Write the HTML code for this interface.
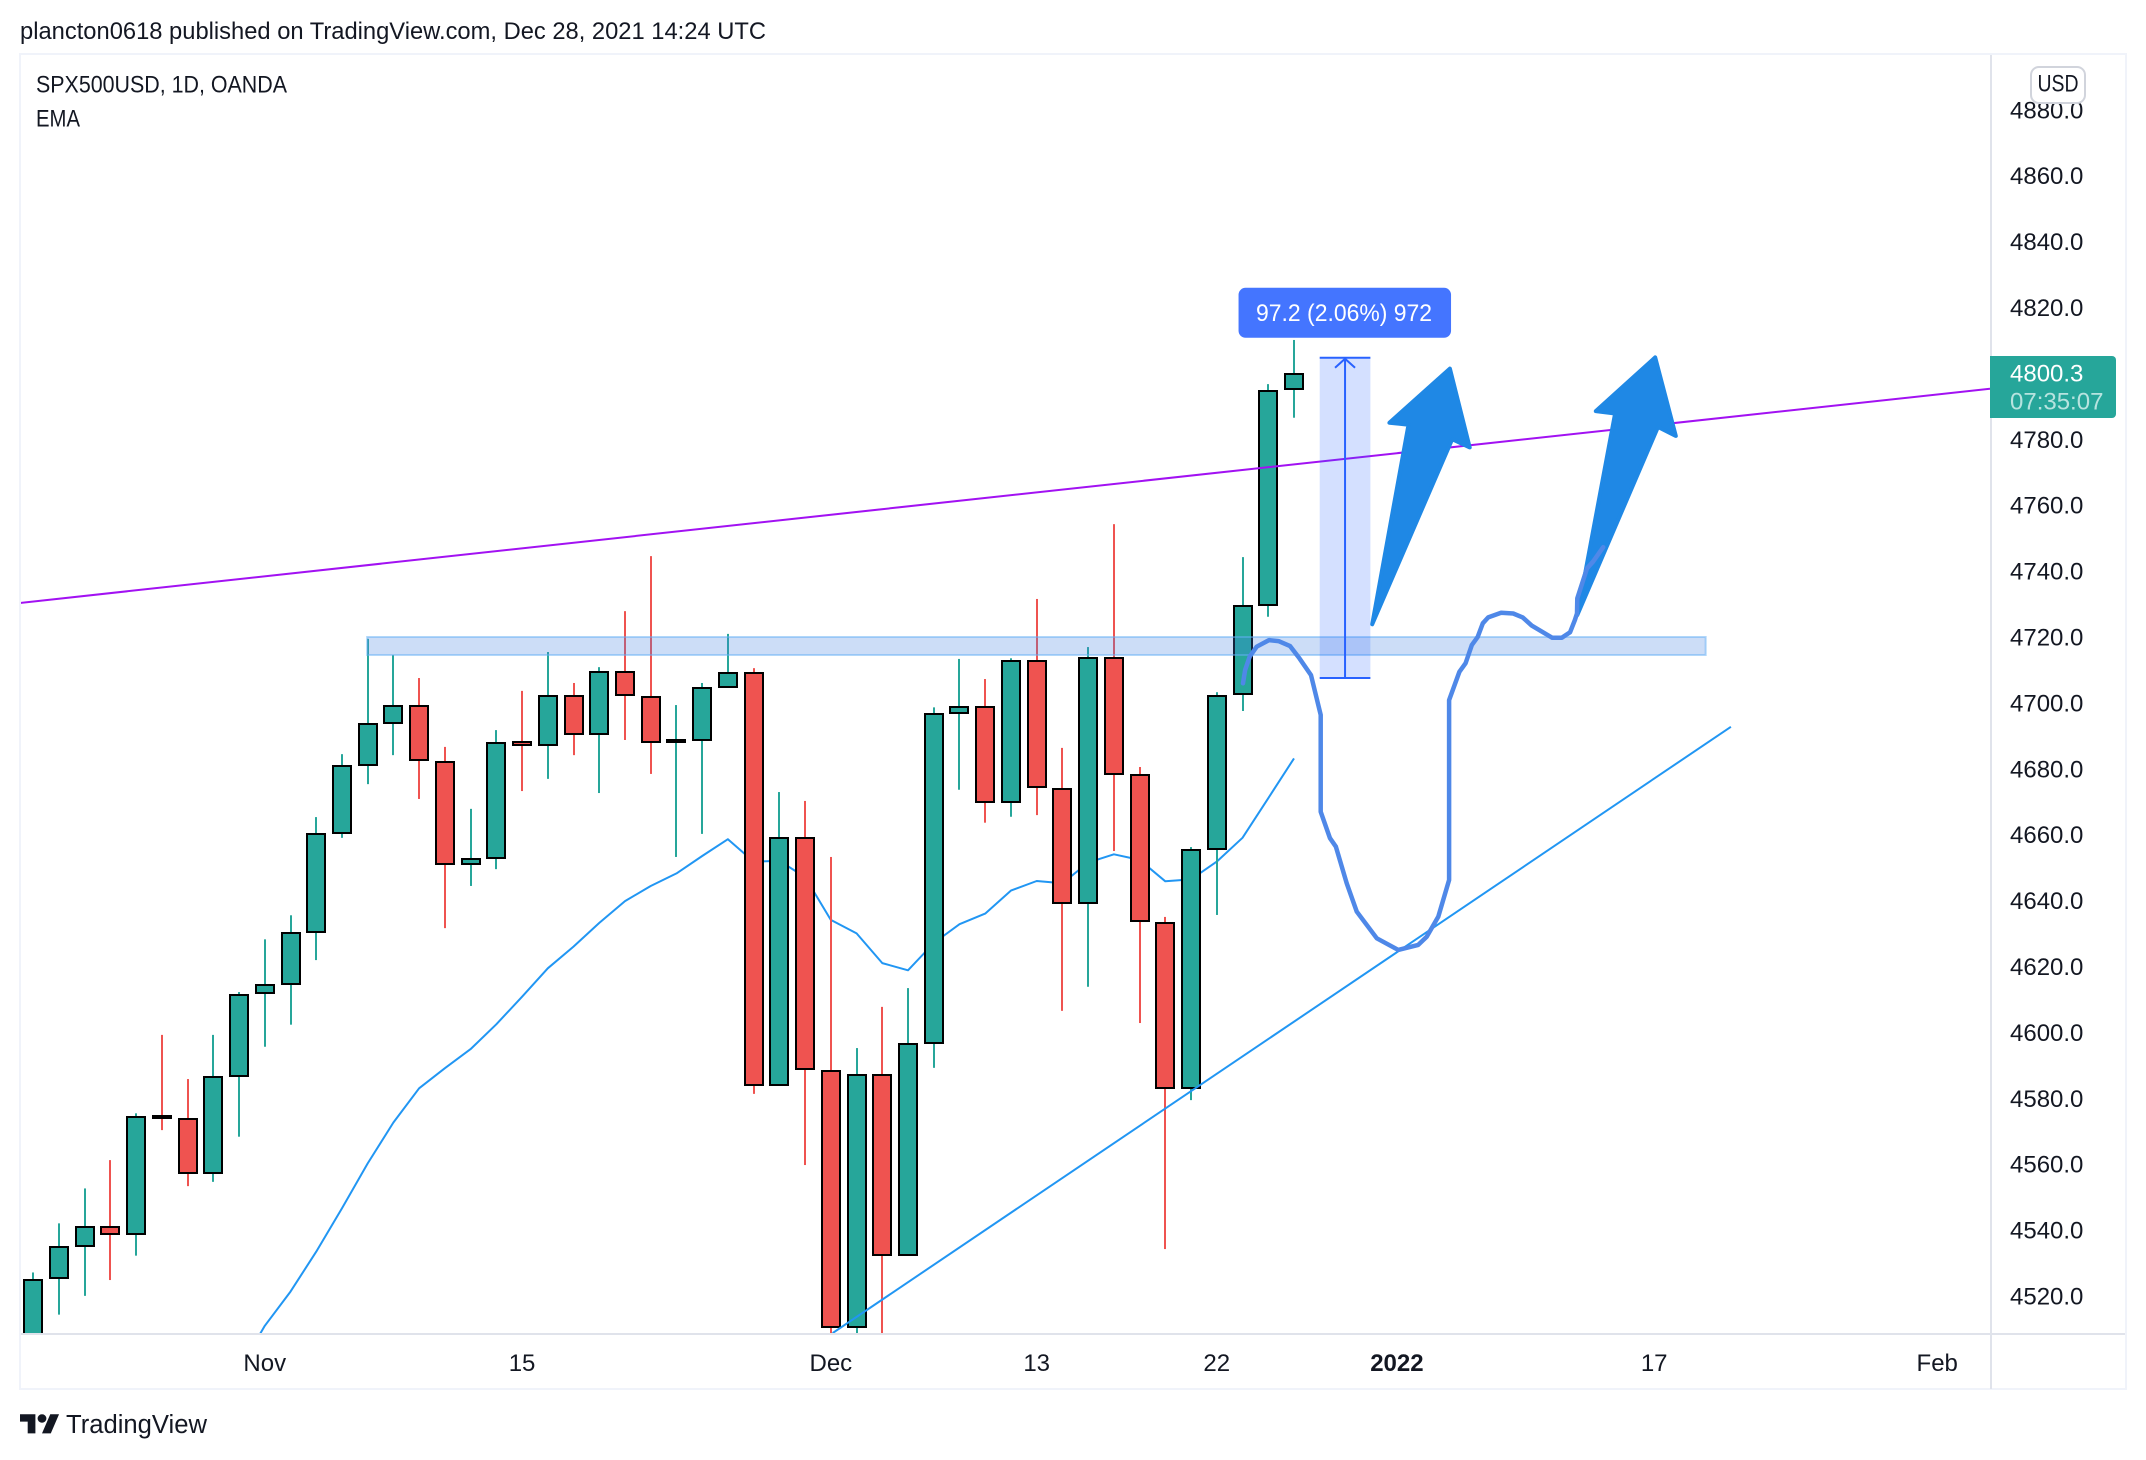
<!DOCTYPE html>
<html lang="en">
<head>
<meta charset="utf-8">
<title>SPX500USD, 1D, OANDA</title>
<style>
html,body{margin:0;padding:0;background:#fff;}
svg{display:block;position:absolute;left:0;top:0;}
text{font-family:"Liberation Sans",sans-serif;fill:#131722;font-size:24px;}
</style>
</head>
<body>
<svg id="chart" xmlns="http://www.w3.org/2000/svg" width="2146" height="1460" viewBox="0 0 2146 1460">
  <defs>
    <clipPath id="pane-clip"><rect x="21" y="55" width="1969" height="1278.5"/></clipPath>
  </defs>
  <rect x="0" y="0" width="2146" height="1460" fill="#ffffff"/>
  <text x="20" y="39" textLength="746" lengthAdjust="spacingAndGlyphs">plancton0618 published on TradingView.com, Dec 28, 2021 14:24 UTC</text>

  <g id="pane" clip-path="url(#pane-clip)">
    <g id="ema-layer"></g>
    <g id="candle-layer"></g>
    <g id="drawing-layer"></g>
  </g>

  <text x="36" y="92.5" textLength="251" lengthAdjust="spacingAndGlyphs">SPX500USD, 1D, OANDA</text>
  <text x="36" y="126.5" textLength="44" lengthAdjust="spacingAndGlyphs">EMA</text>

  <rect x="20" y="54" width="2106" height="1335" fill="none" stroke="#f0f3fa" stroke-width="2"/>
  <rect x="1990" y="55" width="2" height="1334" fill="#e0e3eb"/>
  <rect x="21" y="1333" width="2104" height="2" fill="#e0e3eb"/>

  <g id="price-axis"></g>
  <g id="time-axis"></g>

  <g>
    <rect x="2031" y="67" width="54" height="36" rx="8" fill="#ffffff" stroke="#d1d4dc" stroke-width="2"/>
    <text x="2037.5" y="91.5" textLength="41" lengthAdjust="spacingAndGlyphs">USD</text>
  </g>

  <g>
    <path d="M1990 356H2112a4 4 0 0 1 4 4V414a4 4 0 0 1 -4 4H1990Z" fill="#26a69a"/>
    <text x="2010" y="381.5" style="fill:#ffffff">4800.3</text>
    <text x="2010" y="409.5" style="fill:#b7e3df">07:35:07</text>
  </g>

  <g>
    <g transform="translate(20,1410) scale(1.1,1.06)" fill="#131722">
      <path d="M14 22H7V11H0V4h14v18zM28 22h-8l7.5-18h8L28 22z"/>
      <circle cx="20" cy="8" r="4"/>
    </g>
    <text x="66" y="1433" style="font-size:25.5px" textLength="141" lengthAdjust="spacingAndGlyphs">TradingView</text>
  </g>
</svg>

<script>
/* ---------- chart data (prices, bar indices) ---------- */
const opens  = [4500.0,4525.6,4535.4,4541.5,4539.2,4575.0,4574.3,4557.7,4587.0,4612.1,4614.9,4630.7,4660.8,4681.4,4694.1,4699.6,4682.6,4651.2,4653.2,4688.5,4687.6,4702.6,4690.7,4709.9,4702.3,4688.5,4689.1,4705.1,4709.6,4584.2,4659.5,4588.8,4510.7,4587.6,4532.8,4597.1,4697.3,4699.3,4670.3,4713.2,4674.4,4639.4,4714.1,4678.6,4633.7,4583.5,4656.0,4702.9,4730.1,4795.4];
const highs  = [4527.6,4542.5,4553.1,4561.7,4575.9,4599.7,4586.3,4599.7,4612.7,4628.7,4636.0,4665.8,4684.9,4719.9,4715.0,4708.0,4687.1,4668.3,4692.2,4704.1,4715.9,4706.5,4711.3,4728.3,4745.0,4699.8,4706.5,4721.4,4711.0,4673.4,4670.7,4653.7,4595.7,4608.2,4613.9,4699.1,4713.8,4707.7,4714.0,4732.0,4686.8,4717.4,4754.7,4681.0,4635.5,4656.7,4703.7,4744.7,4797.2,4810.6];
const lows   = [4495.0,4514.8,4520.5,4525.3,4532.7,4570.8,4553.8,4555.1,4568.8,4596.1,4602.8,4622.4,4659.5,4675.8,4684.6,4671.3,4632.1,4644.9,4650.0,4673.7,4677.4,4684.6,4673.1,4689.2,4678.9,4653.7,4660.7,4705.1,4581.8,4584.2,4560.2,4500.0,4500.0,4500.0,4532.8,4589.7,4674.1,4664.1,4665.9,4666.4,4607.0,4614.3,4655.5,4603.3,4534.7,4579.9,4636.1,4698.0,4726.6,4787.0];
const closes = [4525.3,4535.4,4541.5,4539.2,4574.9,4574.4,4557.7,4587.0,4611.9,4614.9,4630.7,4660.8,4681.4,4694.1,4699.6,4682.8,4651.3,4653.2,4688.3,4687.5,4702.6,4690.7,4709.9,4702.5,4688.5,4689.1,4705.1,4709.6,4584.2,4659.5,4589.0,4510.7,4587.6,4532.8,4597.0,4697.2,4699.3,4670.3,4713.2,4674.6,4639.4,4714.1,4678.8,4634.0,4583.5,4655.9,4702.6,4730.0,4795.2,4800.3];
const emaValues = [null,null,null,null,null,null,null,null,4498.0,4511.4,4521.8,4533.9,4547.1,4560.7,4573.1,4583.5,4589.6,4595.4,4602.9,4611.3,4619.9,4626.5,4633.7,4640.3,4644.9,4648.7,4654.0,4659.1,4652.3,4652.5,4647.6,4634.6,4630.5,4621.5,4619.3,4627.6,4633.3,4636.5,4643.5,4646.4,4645.7,4652.0,4654.5,4652.8,4646.3,4646.9,4652.3,4659.5,4671.5,4683.6];
const priceTicks = [4880,4860,4840,4820,4780,4760,4740,4720,4700,4680,4660,4640,4620,4600,4580,4560,4540,4520];
const timeTickBars = [9,19,31,39,46,53,63,74];
const timeTickLabels = ["Nov","15","Dec","13","22","2022","17","Feb"];

/* ---------- drawings, anchored as [bar, price] ---------- */
const resistanceLine = [[-0.5,4730.8],[76.05,4795.8]];
const supportLine = [[31.07,4509.2],[65.98,4693.2]];
const zoneBars = [12.98,65];
const zonePrices = [4720.4,4714.9];
const rangeBars = [50.0,51.97];
const rangePrices = [4708.0,4805.2];
const rangeLabel = "97.2 (2.06%) 972";
const arrowOne = [[52.04,4724.3],[53.45,4784.9],[52.71,4785.5],[55.06,4801.9],[55.83,4778.0],[55.15,4780.5]];
const arrowTwo = [[60.01,4727.1],[61.48,4788.3],[60.73,4789.0],[63.04,4805.3],[63.84,4781.5],[63.15,4784.2]];
const brushPath = [[47.02,4706.4],[47.10,4710.4],[47.28,4714.5],[47.55,4717.5],[48.03,4719.5],[48.40,4719.2],[48.85,4717.7],[49.21,4714.0],[49.66,4708.9],[50.04,4696.8],[50.04,4667.4],[50.40,4659.4],[50.63,4656.8],[51.05,4645.7],[51.44,4637.1],[52.22,4629.0],[53.05,4625.5],[53.83,4627.0],[54.16,4629.5],[54.61,4635.6],[55.03,4646.7],[55.03,4701.3],[55.43,4709.9],[55.67,4712.5],[55.91,4718.0],[56.14,4720.5],[56.34,4724.6],[56.55,4726.4],[57.05,4727.8],[57.52,4727.6],[57.89,4726.4],[58.24,4723.9],[59.04,4720.2],[59.41,4720.2],[59.73,4721.9],[59.92,4725.6],[60.00,4727.6],[60.01,4732.2],[60.39,4741.3],[60.62,4743.3],[61.02,4747.7]];

/* ---------- axis functions ---------- */
function xOf(bar){ return 33.2 + bar * 25.73; }
function yOf(price){ return 1297.5 - (price - 4520) * 3.295; }

const NS = "http://www.w3.org/2000/svg";
function make(tag, attrs, parent){
  const node = document.createElementNS(NS, tag);
  for (const k in attrs) node.setAttribute(k, attrs[k]);
  parent.appendChild(node);
  return node;
}
function pts(list){ return list.map(p => xOf(p[0]).toFixed(1) + "," + yOf(p[1]).toFixed(1)).join(" "); }

const emaLayer = document.getElementById("ema-layer");
const candleLayer = document.getElementById("candle-layer");
const drawingLayer = document.getElementById("drawing-layer");
const priceAxis = document.getElementById("price-axis");
const timeAxis = document.getElementById("time-axis");

/* EMA */
const emaPoints = [];
emaValues.forEach((v, i) => { if (v !== null) emaPoints.push([i, v]); });
const emaEl = make("polyline", {points: pts(emaPoints), fill: "none", stroke: "#2196f3", "stroke-width": 2, "stroke-linejoin": "round"}, emaLayer);



/* Candles */
closes.forEach((close, i) => {
  const open = opens[i];
  const up = close >= open;
  const color = up ? "#26a69a" : "#ef5350";
  const cx = Math.round(xOf(i));
  const group = make("g", {}, candleLayer);
  
  
  const wick = make("rect", {x: cx - 1, y: yOf(highs[i]), width: 2, height: yOf(lows[i]) - yOf(highs[i]), fill: color}, group);
  
  
  const top = Math.round(yOf(Math.max(open, close)));
  const bottom = Math.round(yOf(Math.min(open, close)) - 0.7);
  const body = make("rect", {x: cx - 9, y: top, width: 18, height: Math.max(bottom - top, 1), fill: color, stroke: "#000000", "stroke-width": 2}, group);
  
  
});

/* Resistance line */
const resEl = make("polyline", {points: pts(resistanceLine), fill: "none", stroke: "#a211f2", "stroke-width": 2}, drawingLayer);



/* Support line */
const supEl = make("polyline", {points: pts(supportLine), fill: "none", stroke: "#2196f3", "stroke-width": 2}, drawingLayer);



/* Horizontal zone */
const zoneEl = make("rect", {x: xOf(zoneBars[0]), y: Math.round(yOf(zonePrices[0])), width: xOf(zoneBars[1]) - xOf(zoneBars[0]), height: Math.round(yOf(zonePrices[1])) - Math.round(yOf(zonePrices[0])), fill: "rgba(66,130,226,0.27)", stroke: "rgba(100,175,245,0.5)", "stroke-width": 2}, drawingLayer);



/* Price range tool */
const rx0 = xOf(rangeBars[0]), rx1 = xOf(rangeBars[1]);
const ryTop = yOf(rangePrices[1]), ryBot = yOf(rangePrices[0]);
const rMid = (rx0 + rx1) / 2;
const rangeFill = make("rect", {x: rx0, y: ryTop, width: rx1 - rx0, height: ryBot - ryTop, fill: "rgba(41,98,255,0.2)"}, drawingLayer);


const rangeTop = make("line", {x1: rx0, x2: rx1, y1: ryTop, y2: ryTop, stroke: "#2962ff", "stroke-width": 2}, drawingLayer);


const rangeBot = make("line", {x1: rx0, x2: rx1, y1: ryBot, y2: ryBot, stroke: "#2962ff", "stroke-width": 2}, drawingLayer);


const rangeShaft = make("line", {x1: rMid, x2: rMid, y1: ryTop, y2: ryBot, stroke: "#2962ff", "stroke-width": 2}, drawingLayer);


const rangeHead = make("polyline", {points: (rMid - 10) + "," + (ryTop + 10) + " " + rMid + "," + (ryTop + 1) + " " + (rMid + 10) + "," + (ryTop + 10), fill: "none", stroke: "#2962ff", "stroke-width": 2}, drawingLayer);


const rangeBox = make("rect", {x: rMid - 106.5, y: ryTop - 70, width: 212.5, height: 50, rx: 7, fill: "#4475ff"}, drawingLayer);


const rangeText = make("text", {x: rMid - 89, y: ryTop - 37, textLength: 176, lengthAdjust: "spacingAndGlyphs", style: "fill:#ffffff"}, drawingLayer);


rangeText.textContent = rangeLabel;

/* Arrows */
const arrowA = make("polygon", {points: pts(arrowOne), fill: "#1f88e5", stroke: "#1f88e5", "stroke-width": 4, "stroke-linejoin": "round"}, drawingLayer);


const arrowB = make("polygon", {points: pts(arrowTwo), fill: "#1f88e5", stroke: "#1f88e5", "stroke-width": 4, "stroke-linejoin": "round"}, drawingLayer);



/* Brush */
const brushEl = make("polyline", {points: pts(brushPath), fill: "none", stroke: "#4f88e8", "stroke-width": 4.5, "stroke-linejoin": "round", "stroke-linecap": "round"}, drawingLayer);



/* Price axis labels */
priceTicks.forEach(p => {
  const t = make("text", {x: 2010, y: yOf(p) + 7}, priceAxis);
  
  
  t.textContent = p.toFixed(1);
});

/* Time axis labels */
timeTickBars.forEach((bar, i) => {
  const label = timeTickLabels[i];
  const t = make("text", {x: xOf(bar), y: 1371, "text-anchor": "middle"}, timeAxis);
  
  
  if (label === "2022") t.setAttribute("font-weight", "bold");
  t.textContent = label;
});
</script>
</body>
</html>
